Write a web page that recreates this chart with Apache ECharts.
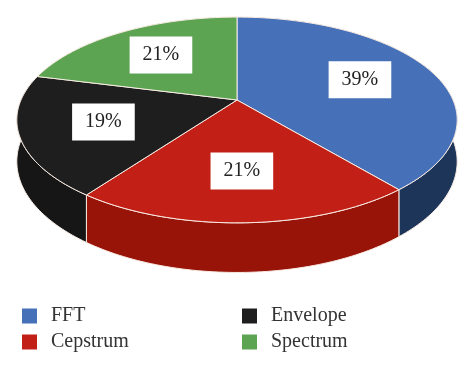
<!DOCTYPE html>
<html>
<head>
<meta charset="utf-8">
<script src="https://cdn.jsdelivr.net/npm/echarts@6/dist/echarts.min.js"></script>
<style>html,body{margin:0;padding:0;background:#fff}#c{width:474px;height:368px}</style>
</head>
<body>
<div id="c"></div>
<script>
const categories = ['FFT', 'Cepstrum', 'Envelope', 'Spectrum'];
const values = [39, 21, 19, 21];
const labelTexts = ['39%', '21%', '19%', '21%'];

const topColors = ['#4670b8', '#c22016', '#1e1e1e', '#5da452'];
const sideColors = ['#1d3559', '#981409', '#161616', '#3d7a35'];

// projection parameters (layout only)
const CX = 237, CY = 100, W = 216, HY = 99, B = 0.194, D = 40, LF = 0.63;
const total = values.reduce((a, b) => a + b, 0);
function angles(i) {
  let s = 0;
  for (let k = 0; k < i; k++) s += values[k];
  return [s / total * Math.PI * 2, (s + values[i]) / total * Math.PI * 2];
}
function proj(t, f, drop) {
  const u = Math.sin(t) * f, v = -Math.cos(t) * f;
  const s = 1 / (1 - B * v);
  return [CX + W * u * s, CY + HY * v * s + (drop ? D * s : 0)];
}
function arc(a0, a1, drop) {
  const n = Math.max(8, Math.ceil((a1 - a0) / 0.02));
  const pts = [];
  for (let j = 0; j <= n; j++) pts.push(proj(a0 + (a1 - a0) * j / n, 1, drop));
  return pts;
}

const series = [];
// side walls
series.push({
  type: 'custom', name: '_sides', coordinateSystem: 'none', silent: true, z: 1,
  data: values,
  renderItem: function (params) {
    const i = params.dataIndex;
    const [a0, a1] = angles(i);
    const top = arc(a0, a1, false);
    const bot = arc(a0, a1, true).reverse();
    return {
      type: 'polygon',
      shape: { points: top.concat(bot) },
      style: { fill: sideColors[i], stroke: '#f8ece4', lineWidth: 1 }
    };
  }
});
// top faces
categories.forEach(function (name, i) {
  series.push({
    type: 'custom', name: name, coordinateSystem: 'none', silent: true, z: 2,
    itemStyle: { color: topColors[i] },
    data: [values[i]],
    renderItem: function () {
      const [a0, a1] = angles(i);
      const pts = [[CX, CY]].concat(arc(a0, a1, false));
      const mid = (a0 + a1) / 2;
      const lp = proj(mid, LF, false);
      return {
        type: 'group',
        children: [
          { type: 'polygon', shape: { points: pts },
            style: { fill: topColors[i], stroke: '#f8ece4', lineWidth: 1 } },
          { type: 'text', z2: 10,
            style: { x: lp[0], y: lp[1], text: labelTexts[i], fill: '#222',
              font: '20px "Liberation Serif", serif', align: 'center', verticalAlign: 'middle',
              backgroundColor: '#fff', padding: [9, 13, 8, 13] } }
        ]
      };
    }
  });
});

const legendBase = {
  orient: 'vertical', itemWidth: 15, itemHeight: 15, itemGap: 6, top: 301,
  icon: 'rect', selectedMode: false,
  textStyle: { fontFamily: '"Liberation Serif", serif', fontSize: 20, color: '#333', padding: [0, 0, 0, 9] }
};
const chart = echarts.init(document.getElementById('c'), null, { renderer: 'canvas' });
chart.setOption({
  animation: false,
  color: topColors,
  legend: [
    Object.assign({}, legendBase, { left: 17, data: [categories[0], categories[1]] }),
    Object.assign({}, legendBase, { left: 237, data: [categories[2], categories[3]] })
  ],
  series: series
});
</script>
</body>
</html>
